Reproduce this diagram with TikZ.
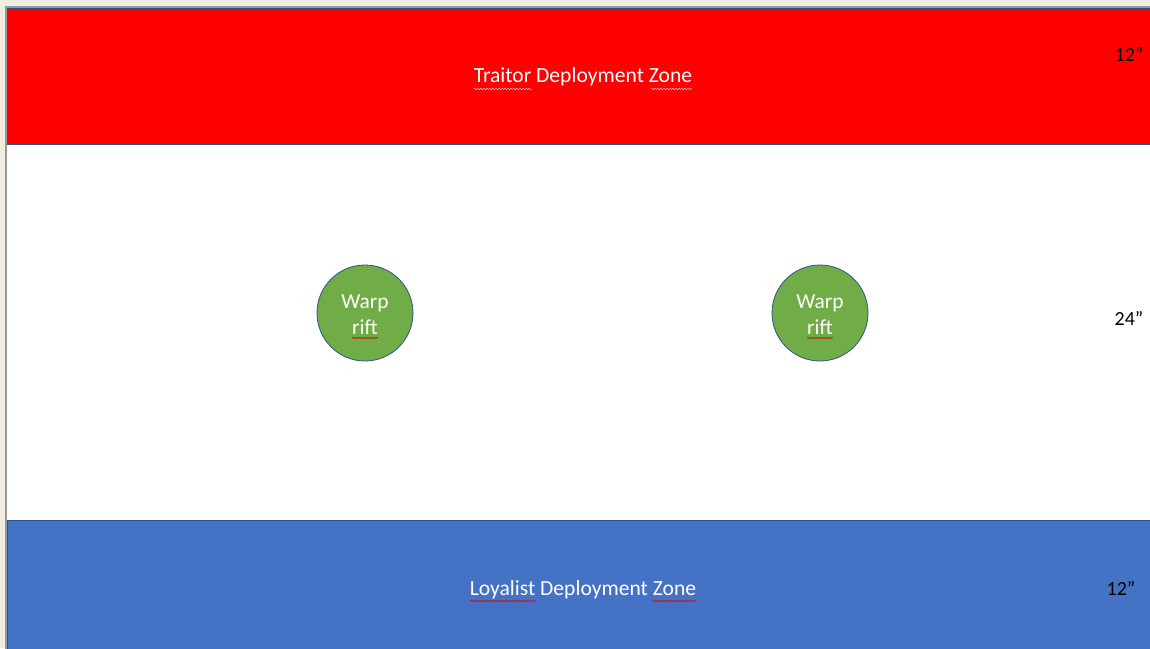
\documentclass[tikz,border=0pt]{standalone}
\usepackage{fontspec}
\setmainfont{Carlito}
\usetikzlibrary{decorations.pathmorphing}
\definecolor{deskbg}{HTML}{F1EDDE}
\definecolor{slideedge}{HTML}{8E9AA6}
\definecolor{zonered}{HTML}{FF0000}
\definecolor{zoneblue}{HTML}{4472C4}
\definecolor{riftgreen}{HTML}{70AD47}
\definecolor{shapeline}{HTML}{2F528F}
\tikzset{
  zonebox/.style={draw=shapeline, line width=0.6pt},
  zonelabel/.style={text=white, font=\fontsize{21.6}{26}\selectfont, inner sep=0pt},
  rift/.style={circle, draw=shapeline, line width=0.8pt, fill=riftgreen,
    minimum size=96pt, inner sep=0pt, text=white, align=center,
    font=\fontsize{21.4}{26}\selectfont},
  sizelabel/.style={text=black, font=\fontsize{20}{24}\selectfont, inner sep=0pt},
  spellmark/.style={line width=0.5pt,
    decorate, decoration={snake, amplitude=0.8pt, segment length=3pt}}
}
\begin{document}
\begin{tikzpicture}[x=1pt,y=-1pt]
  \useasboundingbox (0,0) rectangle (1150,648);
  % desk behind the slide
  \fill[deskbg] (0,0) rectangle (1150,648);
  \fill[slideedge] (5,6) rectangle (1152,650);
  \fill[white] (7,8) rectangle (1152,650);
  % deployment zones
  \draw[zonebox, fill=zonered] (7,8) rectangle (1152,144);
  \draw[zonebox, fill=zoneblue] (7,520) rectangle (1152,652);
  \node[zonelabel] (traitor) at (583,77) {Traitor Deployment Zone};
  \node[zonelabel] (loyalist) at (583,590) {Loyalist Deployment Zone};
  % warp rifts
  \node[rift] (riftA) at (365,313) {};
  \node[rift] (riftB) at (820,313) {};
  \node[text=white, font=\fontsize{21.4}{26}\selectfont, align=center, inner sep=0pt]
    (riftAtext) at ([yshift=-1.5pt]riftA.center) {Warp\\rift};
  \node[text=white, font=\fontsize{21.4}{26}\selectfont, align=center, inner sep=0pt]
    (riftBtext) at ([yshift=-1.5pt]riftB.center) {Warp\\rift};
  % table depths
  \node[sizelabel] (topdepth) at (1129,54) {12”};
  \node[sizelabel] (middepth) at (1129,318) {24”};
  \node[sizelabel] (lowdepth) at (1121,588) {12”};
  % spelling marks under words
  \draw[spellmark, draw=red!25!white] (474,89) -- (532,89);
  \draw[spellmark, draw=red!25!white] (651,89) -- (692,89);
  \draw[spellmark, draw=red!85!black] (470,601) -- (536,601);
  \draw[spellmark, draw=red!85!black] (652,601) -- (697,601);
  \draw[spellmark, draw=red!85!black] (352,338) -- (378,338);
  \draw[spellmark, draw=red!85!black] (807,338) -- (833,338);
\end{tikzpicture}
\end{document}
